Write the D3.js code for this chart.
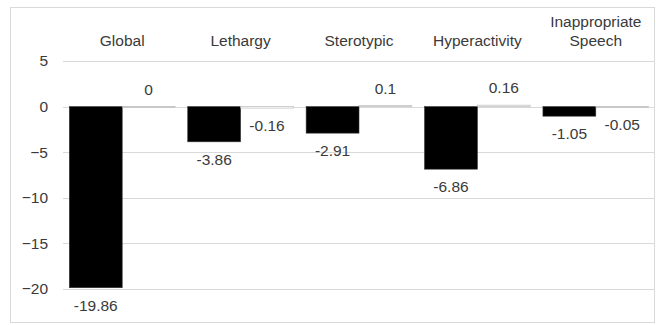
<!DOCTYPE html>
<html><head><meta charset="utf-8">
<script src="https://cdn.jsdelivr.net/npm/d3@7"></script>
<style>body{margin:0;background:#fff;}svg{display:block;font-family:"Liberation Sans",Arial,sans-serif;}</style>
</head><body>
<script>
const categories = [["Global"],["Lethargy"],["Sterotypic"],["Hyperactivity"],["Inappropriate","Speech"]];
const seriesA = [-19.86, -3.86, -2.91, -6.86, -1.05];
const seriesB = [0, -0.16, 0.1, 0.16, -0.05];
const yTicks = [5, 0, -5, -10, -15, -20];

const W = 656, H = 325, FS = 15.5;
const svg = d3.select("body").append("svg").attr("width", W).attr("height", H);
svg.append("rect").attr("x", 10.5).attr("y", 7.5).attr("width", 644).attr("height", 315)
  .attr("fill", "#fff").attr("stroke", "#d9d9d9");

const left = 63, right = 655;
const y = d3.scaleLinear().domain([-20, 5]).range([289, 61]);
const x = d3.scaleBand().domain(d3.range(categories.length)).range([left, right]).paddingInner(0).paddingOuter(0);
const sub = d3.scaleBand().domain([0,1]).range([0, x.bandwidth()]).paddingOuter(0.12).paddingInner(0);

// gridlines
svg.append("g").selectAll("line").data(yTicks).join("line")
  .attr("x1", left).attr("x2", right)
  .attr("y1", d => Math.round(y(d)) + 0.5).attr("y2", d => Math.round(y(d)) + 0.5)
  .attr("stroke", "#d9d9d9").attr("stroke-width", 1.2);

// y axis tick labels
const yAxis = d3.axisLeft(y).tickValues(yTicks).tickSize(0).tickPadding(0);
const ga = svg.append("g").attr("transform", "translate(48,0)").call(yAxis);
ga.select(".domain").remove();
ga.selectAll("text").attr("font-size", FS).attr("fill", "#3a3a3a")
  .attr("font-family", "Liberation Sans, Arial, sans-serif");

// category labels
const cat = svg.append("g").selectAll("text").data(categories).join("text")
  .attr("text-anchor", "middle").attr("font-size", FS).attr("fill", "#3a3a3a")
  .attr("x", (d, i) => x(i) + x.bandwidth() / 2);
cat.each(function(d) {
  const t = d3.select(this);
  d.forEach((line, j) => {
    t.append("tspan").attr("x", t.attr("x"))
      .attr("y", 46 - (d.length - 1 - j) * 19).text(line);
  });
});

const series = [
  {vals: seriesA, fill: "#000", stroke: "#333"},
  {vals: seriesB, fill: "#fff", stroke: "#b0b0b0"}
];
series.forEach((s, si) => {
  const g = svg.append("g");
  g.selectAll("rect").data(s.vals).join("rect")
    .attr("x", (d, i) => x(i) + sub(si))
    .attr("width", sub.bandwidth())
    .attr("y", d => y(Math.max(0, d)))
    .attr("height", d => Math.max(0.6, Math.abs(y(d) - y(0))))
    .attr("fill", s.fill).attr("stroke", s.stroke).attr("stroke-width", 0.6);
  g.selectAll("text").data(s.vals).join("text")
    .attr("text-anchor", "middle").attr("font-size", FS).attr("fill", "#3a3a3a")
    .attr("x", (d, i) => x(i) + sub(si) + sub.bandwidth() / 2)
    .attr("y", d => d >= 0 ? y(d) - 12 : y(d) + 23)
    .text(d => String(d));
});
</script>
</body></html>
